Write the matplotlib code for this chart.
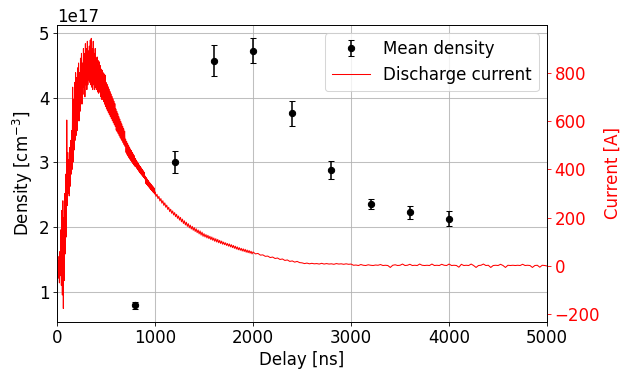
import numpy as np
import matplotlib
matplotlib.use("Agg")
import matplotlib.pyplot as plt

# Density measurements
delay_ns = [800, 1200, 1600, 2000, 2400, 2800, 3200, 3600, 4000]
density = [0.79e17, 3.01e17, 4.57e17, 4.73e17, 3.76e17, 2.88e17, 2.36e17, 2.23e17, 2.13e17]
density_err = [0.05e17, 0.17e17, 0.24e17, 0.19e17, 0.19e17, 0.14e17, 0.08e17, 0.10e17, 0.12e17]

# Discharge current trace, 0-995 ns sampled every 5 ns
current_early_t = np.arange(0, 1000, 5)
current_early = [
    30, -20, 40, -50, 20, -70, 60, -40, 150, -80, 230, -120, 270, -176, 200, -60, 300, 50, 380, 120,
    604, 250, 470, 300, 440, 290, 490, 330, 520, 380, 560, 400, 740, 430, 690, 480, 760, 520, 800, 540,
    780, 560, 820, 610, 840, 600, 800, 640, 860, 690, 880, 670, 840, 710, 900, 740, 880, 700, 920, 750,
    900, 730, 930, 750, 890, 770, 910, 760, 935, 750, 942, 740, 900, 730, 930, 750, 880, 730, 900, 740,
    860, 730, 865, 720, 850, 715, 845, 720, 830, 700, 815, 690, 810, 690, 800, 680, 795, 670, 790, 660,
    760, 650, 752, 642, 742, 634, 732, 626, 722, 618, 712, 610, 702, 602, 692, 594, 682, 586, 672, 578,
    650, 562, 640, 555, 630, 548, 618, 540, 608, 532, 598, 525, 588, 518, 578, 510, 568, 502, 558, 495,
    525, 470, 516, 462, 508, 455, 500, 448, 492, 442, 484, 436, 477, 430, 470, 424, 463, 418, 456, 413,
    445, 410, 438, 404, 431, 398, 425, 392, 418, 386, 412, 381, 406, 376, 400, 371, 394, 366, 388, 361,
    372, 342, 366, 337, 360, 332, 354, 327, 348, 322, 343, 317, 338, 312, 333, 307, 328, 303, 323, 298,
]
# Discharge current trace, 1000-1990 ns sampled every 10 ns
current_mid_t = np.arange(1000, 2000, 10)
current_mid = [
    307, 288, 297, 279, 288, 269, 279, 260, 270, 251,
    261, 243, 252, 234, 243, 225, 235, 218, 228, 211,
    221, 204, 214, 197, 207, 190, 201, 183, 194, 176,
    187, 170, 181, 164, 175, 158, 169, 153, 164, 148,
    159, 143, 154, 138, 149, 133, 145, 128, 140, 123,
    134, 120, 130, 116, 127, 113, 123, 109, 120, 106,
    116, 102, 113, 99, 110, 96, 106, 93, 103, 90,
    99, 88, 96, 85, 93, 82, 91, 79, 88, 76,
    85, 73, 82, 70, 79, 67, 76, 65, 73, 62,
    71, 60, 69, 57, 66, 55, 64, 53, 61, 50,
]
# Discharge current trace, 2000-5000 ns sampled every 25 ns
current_late_t = np.arange(2000, 5001, 25)
current_late = [
    58, 50, 52, 45, 46, 40, 41, 35, 37, 31, 33, 27, 29, 23, 25, 19, 21, 16, 19, 14,
    13, 10, 12, 9, 11, 9, 10, 8, 11, 8, 10, 8, 9, 7, 10, 8, 9, 7, 9, 7,
    8, 3, 4, 2, 6, 3, 2, 5, 3, 2, 4, 3, 6, 2, 3, 2, -6, 3, 5, 2,
    3, 8, 2, 3, 7, 2, 3, 2, 8, 3, 2, 3, 2, 8, 2, 3, 2, 7, 3, 2,
    8, 2, 3, 2, -5, 7, 2, 3, 2, 8, 2, -6, 2, 3, 8, 2, 3, -6, 2, 3,
    2, 7, 2, -6, 3, 2, 3, 2, 3, 2, 7, 2, 3, 2, -6, 2, 3, -5, 3, 2,
    0,
]

current_t = np.concatenate([current_early_t, current_mid_t, current_late_t])
current = np.concatenate([current_early, current_mid, current_late])

plt.rcParams['font.size'] = 16

DPI = 75
fig = plt.figure(figsize=(626 / DPI, 371 / DPI), dpi=DPI)
ax1 = fig.add_axes([0.091, 0.132, 0.783, 0.801])
ax2 = ax1.twinx()

eb = ax1.errorbar(delay_ns, density, yerr=density_err, fmt='o', color='black',
                  capsize=3, label='Mean density')
ax1.set_xlabel('Delay [ns]')
ax1.set_ylabel('Density [cm$^{-3}$]')
ax1.set_xlim(0, 5000)
ax1.grid(True, color='#b0b0b0', linewidth=1, alpha=0.8)

ln, = ax2.plot(current_t, current, color='red', linewidth=1.0, label='Discharge current')
ax2.set_ylabel('Current [A]', color='red')
ax2.tick_params(axis='y', colors='red')

ax2.legend([eb, ln], ['Mean density', 'Discharge current'], loc='upper right',
           handlelength=2.3)

fig.savefig('out.png', dpi=DPI)
